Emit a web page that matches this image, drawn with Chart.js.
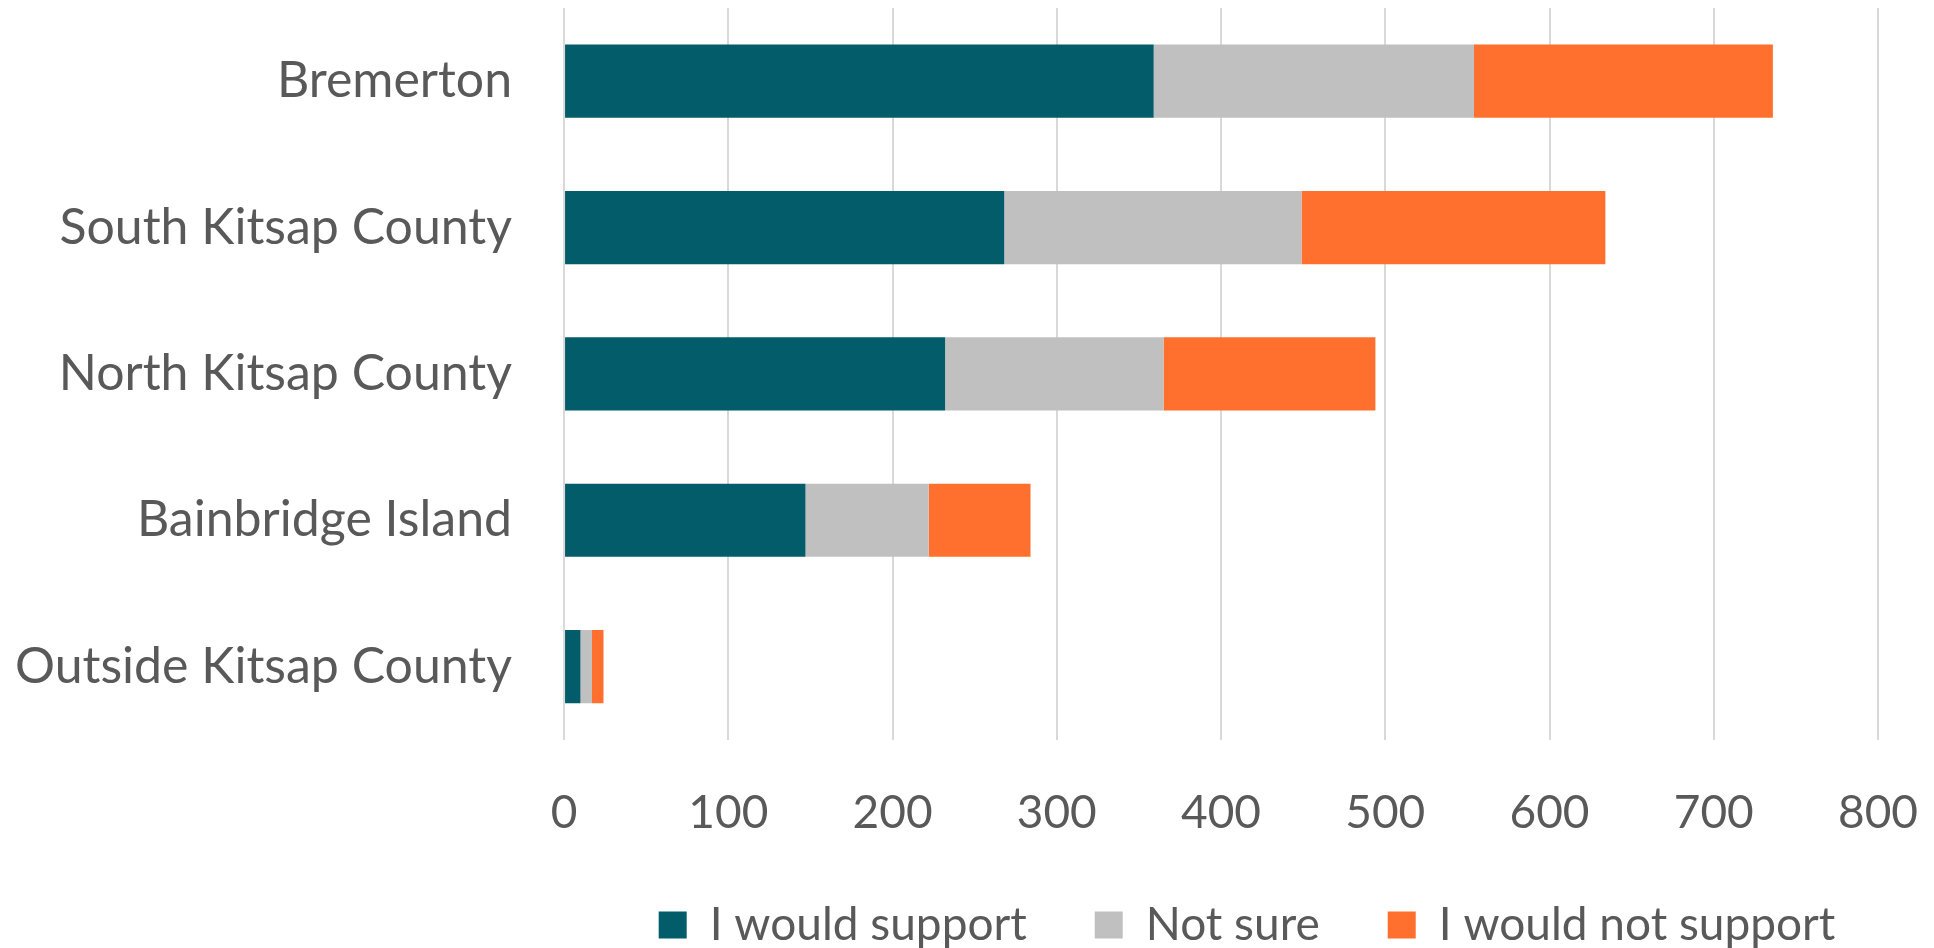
<!DOCTYPE html>
<html>
<head>
<meta charset="utf-8">
<script src="https://cdn.jsdelivr.net/npm/chart.js@4"></script>
<style>
  html, body { margin: 0; padding: 0; background: #fff; }
  #wrap { width: 1934px; height: 948px; }
</style>
</head>
<body>
<div id="wrap"><canvas id="survey-chart"></canvas></div>
<script>
// data
const areas = ["Bremerton", "South Kitsap County", "North Kitsap County", "Bainbridge Island", "Outside Kitsap County"];
const support = [359, 268, 232, 147, 10];
const notSure = [195, 181, 133, 75, 7];
const notSupport = [182, 185, 129, 62, 7];
const xTicks = [0, 100, 200, 300, 400, 500, 600, 700, 800];

Chart.defaults.font.family = "Lato";
Chart.defaults.color = "#595959";

// legend in the original sits a bit right of the plot centre
const legendShift = {
	id: 'legendShift',
	afterLayout(chart) {
		const lg = chart.legend;
		const target = (chart.chartArea.left + chart.chartArea.right) / 2 + 26;
		const shift = target - (lg.left + lg.right) / 2;
		lg.left += shift;
		lg.right += shift;
	}
};

var chartData = {
	labels: areas,
	datasets: [
		{ label: "I would support", data: support, backgroundColor: "#025C6A" },
		{ label: "Not sure", data: notSure, backgroundColor: "#C0C0C0" },
		{ label: "I would not support", data: notSupport, backgroundColor: "#FF6F2D" }
	]
};

var ctx = document.getElementById("survey-chart");
var barGraph = new Chart(ctx, {
	type: 'bar',
	data: chartData,
	plugins: [legendShift],
	options: {
		indexAxis: 'y',
		responsive: true,
		maintainAspectRatio: false,
		animation: false,
		categoryPercentage: 1.0,
		barPercentage: 0.5,
		layout: { padding: { top: 8, right: 56, left: -37, bottom: -10 } },
		scales: {
			x: {
				stacked: true,
				min: 0,
				max: 800,
				afterBuildTicks: (axis) => { axis.ticks = xTicks.map(v => ({ value: v })); },
				afterFit: (axis) => {
					axis.paddingLeft = 0;
					axis.paddingRight = 0;
					axis.height -= 53;
				},
				grid: { color: "#D9D9D9", lineWidth: 2, drawTicks: false },
				border: { display: false },
				ticks: { font: { size: 46 }, padding: 46 }
			},
			y: {
				stacked: true,
				afterFit: (axis) => { axis.paddingTop = 0; axis.paddingBottom = 0; },
				grid: { display: false, drawTicks: false },
				border: { display: false },
				ticks: { font: { size: 50 }, padding: 52 }
			}
		},
		plugins: {
			legend: {
				position: 'bottom',
				labels: { boxWidth: 28, boxHeight: 27, padding: 68, font: { size: 46 } }
			},
			tooltip: { enabled: false }
		}
	}
});
</script>
</body>
</html>
